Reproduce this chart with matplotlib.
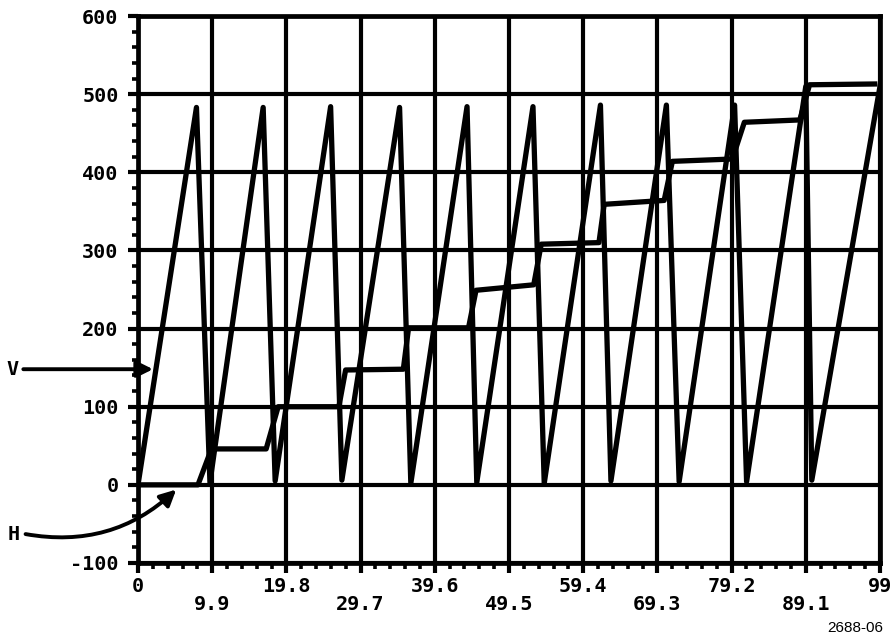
import numpy as np
import matplotlib
matplotlib.use("Agg")
import matplotlib.pyplot as plt
from matplotlib.ticker import AutoMinorLocator

# V (sawtooth) trace
v_x = [0, 7.8, 9.6, 16.7, 18.3, 25.7, 27.2, 34.9, 36.4, 43.9, 45.2, 52.7, 54.2,
       61.7, 63.1, 70.5, 72.2, 79.6, 81.2, 89.1, 89.9, 99]
v_y = [0, 483, 3, 483, 5, 484, 6, 483, 2, 484, 3, 484, 2,
       486, 5, 486, 4, 486, 4, 510, 6, 510]

# H (staircase) trace
h_x = [0, 8.0, 9.8, 17.1, 18.7, 26.8, 27.7, 35.4, 36.1, 44.1, 45.1, 52.8, 53.8,
       61.5, 62.2, 70.2, 71.3, 79.3, 80.9, 88.3, 89.6, 98.3]
h_y = [0, 0, 46, 46, 100, 100, 147, 148, 201, 201, 249, 256, 308,
       310, 359, 364, 414, 417, 464, 467, 512, 513]

x_ticks = [0, 9.9, 19.8, 29.7, 39.6, 49.5, 59.4, 69.3, 79.2, 89.1, 99]
x_tick_labels = ['0', '9.9', '19.8', '29.7', '39.6', '49.5', '59.4',
                 '69.3', '79.2', '89.1', '99']
y_ticks = [-100, 0, 100, 200, 300, 400, 500, 600]
y_tick_labels = ['-100', '0', '100', '200', '300', '400', '500', '600']

mono = 'DejaVu Sans Mono'

fig = plt.figure(figsize=(8.96, 6.39), dpi=100)
ax = fig.add_axes([138/896, 1 - 563/639, (880 - 138)/896, (563 - 16)/639])

ax.plot(v_x, v_y, color='black', lw=3.8, solid_joinstyle='round', zorder=3)
ax.plot(h_x, h_y, color='black', lw=3.8, solid_joinstyle='round', zorder=3)

ax.set_xlim(0, 99)
ax.set_ylim(-100, 600)

ax.set_xticks(x_ticks)
# stagger every other x label onto a second row
ax.set_xticklabels([lab if i % 2 == 0 else '\n' + lab
                    for i, lab in enumerate(x_tick_labels)])
ax.set_yticks(y_ticks)
ax.set_yticklabels(y_tick_labels)
ax.xaxis.set_minor_locator(AutoMinorLocator(5))
ax.yaxis.set_minor_locator(AutoMinorLocator(5))

for lab in ax.get_xticklabels() + ax.get_yticklabels():
    lab.set_fontfamily(mono)
    lab.set_fontweight('bold')
    lab.set_fontsize(14.5)
for lab in ax.get_xticklabels():
    lab.set_linespacing(0.95)

ax.tick_params(which='major', direction='out', length=7, width=3,
               color='black', pad=3)
ax.tick_params(axis='y', which='major', pad=7)
ax.tick_params(which='minor', direction='out', length=4, width=2.6,
               color='black')

ax.grid(True, which='major', color='black', lw=3.0)
for s in ax.spines.values():
    s.set_linewidth(3.4)
    s.set_color('black')

# V arrow
ax.annotate('', xy=(2.0, 148), xytext=(-15.3, 148),
            arrowprops=dict(arrowstyle='-|>', color='black', lw=2.8,
                            mutation_scale=24, shrinkA=0, shrinkB=0),
            annotation_clip=False, zorder=5)
ax.text(-16.8, 148, 'V', ha='center', va='center', fontsize=14.5,
        fontweight='bold', family=mono, clip_on=False)

# H arrow
ax.annotate('', xy=(5.1, -6), xytext=(-15.0, -63),
            arrowprops=dict(arrowstyle='-|>', color='black', lw=2.8,
                            mutation_scale=24, shrinkA=0, shrinkB=0,
                            connectionstyle='arc3,rad=0.25'),
            annotation_clip=False, zorder=5)
ax.text(-16.6, -63, 'H', ha='center', va='center', fontsize=14.5,
        fontweight='bold', family=mono, clip_on=False)

fig.text(883/896, 1 - 628/639, '2688-06', ha='right', va='center',
         fontsize=11, family='Liberation Sans')

fig.savefig('out.png', dpi=100, facecolor='white')
